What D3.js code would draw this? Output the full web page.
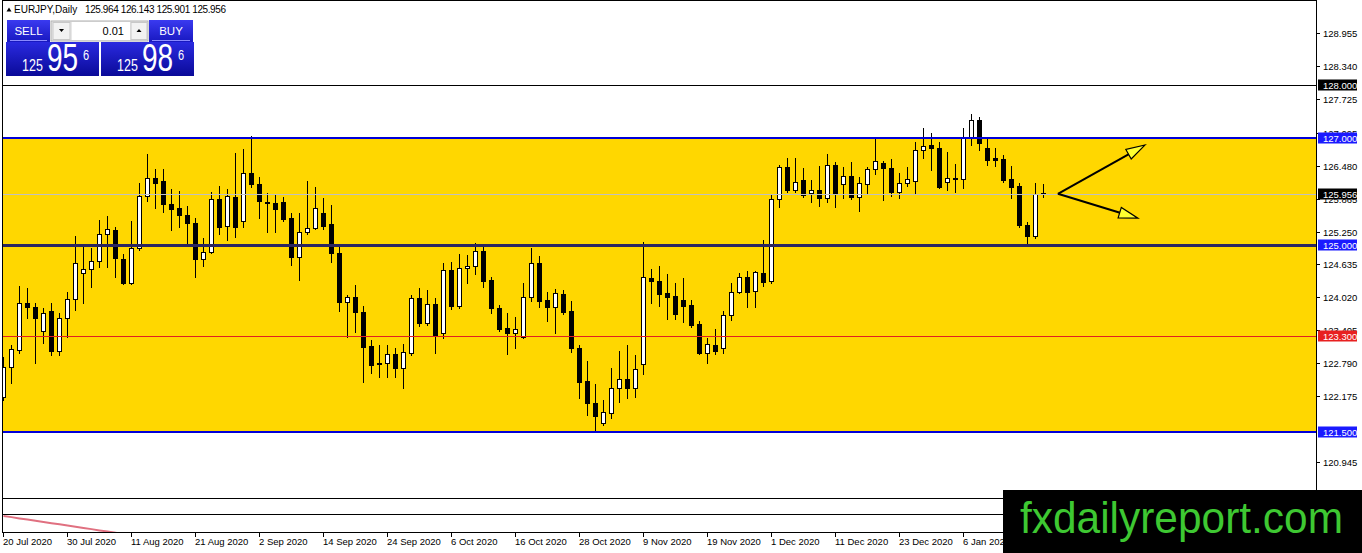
<!DOCTYPE html>
<html>
<head>
<meta charset="utf-8">
<script src="https://cdn.jsdelivr.net/npm/d3@7"></script>
<style>
    html, body { margin: 0; padding: 0; background: #ffffff; overflow: hidden; }
    svg { display: block; font-family: "Liberation Sans", Arial, sans-serif; }
</style>
</head>
<body>
<svg id="chart" width="1362" height="553"></svg>
<script>
// daily candles, 20 Jul 2020 .. 12 Jan 2021
const open = [
    122.16, 122.72, 123.04, 123.92, 123.84, 123.39, 123.77, 123.02, 123.64, 123.99,
    124.48, 124.55, 124.70, 125.21, 125.28, 124.74, 124.29, 124.94, 125.92, 126.25,
    126.20, 125.77, 125.69, 125.56, 125.41, 124.74, 124.87, 125.86, 125.36, 125.90,
    125.45, 126.35, 126.14, 125.80, 125.79, 125.80, 125.50, 124.78, 125.24, 125.32,
    125.60, 125.39, 124.85, 123.93, 124.03, 123.75, 123.11, 122.79, 122.79, 122.96,
    122.70, 122.98, 124.01, 123.54, 123.90, 123.36, 124.53, 123.86, 124.57, 124.61,
    124.89, 124.35, 123.82, 123.45, 123.36, 123.28, 124.03, 124.66, 123.97, 123.84,
    124.08, 123.77, 123.07, 122.46, 122.05, 121.67, 121.86, 122.33, 122.50, 122.33,
    122.78, 124.38, 124.33, 124.10, 124.05, 123.97, 123.88, 123.52, 122.98, 123.13,
    123.07, 123.69, 124.12, 124.40, 124.14, 124.48, 124.33, 125.86, 126.46, 126.03,
    126.21, 125.97, 126.03, 125.88, 126.50, 126.14, 126.29, 125.90, 126.14, 126.42,
    126.53, 126.44, 125.99, 126.16, 126.20, 126.78, 126.87, 126.81, 126.18, 126.23,
    126.23, 127.00, 127.34, 126.81, 126.63, 126.61, 126.23, 126.10, 125.37, 125.17,
    125.964
];
const high = [
    122.91, 123.13, 124.23, 124.20, 123.92, 123.82, 123.92, 123.73, 124.12, 125.17,
    125.00, 124.94, 125.47, 125.54, 125.34, 124.83, 125.45, 126.16, 126.70, 126.42,
    126.42, 126.05, 126.01, 125.73, 125.50, 125.13, 125.99, 126.10, 126.05, 126.72,
    126.79, 127.04, 126.27, 125.97, 125.93, 125.90, 125.60, 125.60, 126.20, 126.08,
    125.88, 125.75, 124.96, 124.07, 124.25, 123.86, 123.22, 123.13, 123.13, 123.07,
    123.15, 124.07, 124.20, 124.16, 124.01, 124.66, 124.68, 124.83, 124.81, 125.04,
    125.02, 124.40, 123.88, 123.73, 123.65, 124.29, 124.94, 124.79, 124.12, 124.18,
    124.16, 123.95, 123.13, 122.83, 122.40, 122.10, 122.70, 123.02, 123.13, 122.94,
    125.06, 124.55, 124.61, 124.46, 124.29, 124.38, 123.97, 123.58, 123.26, 123.43,
    123.77, 124.29, 124.48, 124.51, 124.51, 125.09, 125.93, 126.50, 126.63, 126.63,
    126.44, 126.21, 126.48, 126.70, 126.55, 126.46, 126.55, 126.27, 126.46, 126.98,
    126.57, 126.61, 126.35, 126.46, 126.93, 127.19, 127.09, 126.93, 126.74, 126.51,
    127.19, 127.45, 127.39, 127.02, 126.81, 126.68, 126.48, 126.16, 125.43, 126.16,
    126.143
];
const low = [
    122.10, 122.42, 122.98, 123.64, 122.79, 123.17, 122.94, 122.94, 123.28, 123.79,
    123.92, 124.21, 124.59, 124.59, 124.40, 124.27, 124.27, 124.91, 125.82, 125.69,
    125.62, 125.28, 125.34, 125.04, 124.40, 124.61, 124.85, 125.21, 125.09, 125.15,
    125.34, 126.08, 125.50, 125.24, 125.24, 125.45, 124.63, 124.35, 125.21, 125.30,
    125.30, 124.68, 123.77, 123.28, 123.37, 122.44, 122.61, 122.53, 122.53, 122.53,
    122.33, 122.94, 123.49, 123.50, 122.98, 123.26, 123.80, 123.82, 124.29, 124.46,
    124.21, 123.73, 123.39, 122.96, 123.07, 123.26, 123.95, 123.84, 123.58, 123.36,
    123.71, 123.00, 122.14, 121.82, 121.54, 121.64, 121.77, 122.07, 122.14, 122.16,
    122.59, 123.92, 123.86, 123.62, 123.62, 123.56, 123.47, 122.96, 122.79, 122.96,
    122.98, 123.60, 124.10, 123.84, 123.84, 124.23, 124.29, 125.71, 125.99, 125.99,
    125.90, 125.80, 125.73, 125.80, 125.71, 125.88, 125.86, 125.64, 125.95, 126.33,
    125.84, 125.92, 125.88, 126.10, 125.97, 126.63, 126.40, 126.07, 126.03, 125.99,
    126.07, 126.87, 126.78, 126.50, 126.48, 126.18, 125.88, 125.34, 125.04, 125.13,
    125.901
];
const close = [
    122.72, 123.06, 123.92, 123.84, 123.64, 123.73, 123.02, 123.64, 123.99, 124.66,
    124.55, 124.70, 125.21, 125.30, 124.76, 124.29, 124.94, 125.92, 126.25, 126.16,
    125.77, 125.67, 125.56, 125.41, 124.74, 124.87, 125.86, 125.34, 125.92, 125.34,
    126.35, 126.14, 125.82, 125.79, 125.67, 125.49, 124.78, 125.24, 125.32, 125.69,
    125.36, 124.85, 123.93, 124.03, 123.75, 123.09, 122.76, 122.78, 122.96, 122.70,
    123.00, 124.01, 123.54, 123.90, 123.32, 124.53, 123.86, 124.57, 124.61, 124.89,
    124.33, 123.82, 123.43, 123.36, 123.43, 124.03, 124.66, 123.95, 123.84, 124.10,
    123.75, 123.07, 122.44, 122.05, 121.80, 121.88, 122.33, 122.50, 122.33, 122.68,
    124.40, 124.33, 124.08, 124.03, 123.71, 123.86, 123.50, 122.98, 123.15, 123.02,
    123.69, 124.12, 124.40, 124.12, 124.50, 124.31, 125.86, 126.46, 126.03, 126.18,
    125.93, 126.03, 125.88, 126.50, 125.97, 126.29, 125.90, 126.16, 126.42, 126.57,
    126.44, 125.99, 126.16, 126.23, 126.78, 126.85, 126.81, 126.08, 126.25, 126.25,
    127.00, 127.34, 126.91, 126.59, 126.59, 126.21, 126.08, 125.37, 125.17, 125.95,
    125.956
];

const dateLabels = [
    "20 Jul 2020", "30 Jul 2020", "11 Aug 2020", "21 Aug 2020", "2 Sep 2020",
    "14 Sep 2020", "24 Sep 2020", "6 Oct 2020", "16 Oct 2020", "28 Oct 2020",
    "9 Nov 2020", "19 Nov 2020", "1 Dec 2020", "11 Dec 2020", "23 Dec 2020",
    "6 Jan 2021"
];
const dateBars = [0, 8, 16, 24, 32, 40, 48, 56, 64, 72, 80, 88, 96, 104, 112, 120];

// 121.560 is fully covered by the 121.500 tag, so it is left out
const priceTicks = [
    128.955, 128.340, 127.725, 127.095, 126.480, 125.865, 125.250,
    124.635, 124.020, 123.405, 122.790, 122.175, 120.945
];

// horizontal levels drawn on the chart
const levels = [128.000, 127.000, 125.000, 123.300, 121.500];
const zone = [127.000, 121.500];
const bidPrice = 125.956;

// sub window indicator (only the start is visible)
const indicator = [0.0, -0.07, -0.15, -0.22, -0.30, -0.37, -0.45, -0.52, -0.60,
    -0.67, -0.75, -0.82, -0.90, -0.97, -1.05, -1.12];

// hand-drawn arrows, in bar / price units
const arrowStart = { bar: 131.8, price: 125.956 };
const arrowEnds = [
    { bar: 142.7, price: 126.87 },
    { bar: 141.8, price: 125.50 }
];

const attr = {
    left: 3,
    right: 1316,
    top: 1,
    mainBottom: 498,
    subLine: 514,
    axisY: 532,
    firstBar: 3.5,
    step: 8,
    bodyHalf: 2,
    yellow: "#ffd700",
    levelStyle: [
        { color: "#000000", width: 1, box: "#000000" },
        { color: "#0000d8", width: 2, box: "#1a1aff" },
        { color: "#2c2660", width: 3, box: "#1a1aff" },
        { color: "#e02020", width: 1, box: "#e82020" },
        { color: "#0000d8", width: 2, box: "#1a1aff" }
    ]
};

const svg = d3.select("#chart");

const x = d3.scaleLinear().domain([0, 1]).range([attr.firstBar, attr.firstBar + attr.step]);
const y = d3.scaleLinear().domain([121.5, 127]).range([432, 138]);
const ySub = d3.scaleLinear().domain([-1, 1]).range([532, 500]);

const crisp = function(v, w) {
    return w % 2 === 1 ? Math.round(v) + 0.5 : Math.round(v);
};

const defs = svg.append("defs");
defs.append("clipPath").attr("id", "mainClip")
    .append("rect")
    .attr("x", attr.left)
    .attr("y", attr.top)
    .attr("width", attr.right - attr.left)
    .attr("height", attr.mainBottom - attr.top);
defs.append("clipPath").attr("id", "subClip")
    .append("rect")
    .attr("x", attr.left)
    .attr("y", attr.mainBottom)
    .attr("width", attr.right - attr.left)
    .attr("height", attr.axisY - attr.mainBottom);

let grad = defs.append("linearGradient").attr("id", "panelBlue")
    .attr("x1", 0).attr("y1", 0).attr("x2", 0).attr("y2", 1);
grad.append("stop").attr("offset", "0%").attr("stop-color", "#2a2ae0");
grad.append("stop").attr("offset", "100%").attr("stop-color", "#0a0a98");
let grad2 = defs.append("linearGradient").attr("id", "btnBlue")
    .attr("x1", 0).attr("y1", 0).attr("x2", 0).attr("y2", 1);
grad2.append("stop").attr("offset", "0%").attr("stop-color", "#3a3af0");
grad2.append("stop").attr("offset", "100%").attr("stop-color", "#1818c0");

// ---- main window ----
const main = svg.append("g").attr("clip-path", "url(#mainClip)");

main.append("rect")
    .attr("x", attr.left)
    .attr("y", Math.round(y(zone[0])))
    .attr("width", attr.right - attr.left)
    .attr("height", Math.round(y(zone[1])) - Math.round(y(zone[0])))
    .style("fill", attr.yellow);

const candles = d3.range(open.length).map(i => ({
    i: i, o: open[i], h: high[i], l: low[i], c: close[i]
}));

const cg = main.append("g").attr("shape-rendering", "crispEdges");

cg.selectAll("line.wick")
    .data(candles)
    .enter()
    .append("line")
    .attr("class", "wick")
    .attr("x1", d => x(d.i))
    .attr("x2", d => x(d.i))
    .attr("y1", d => Math.round(y(d.h)))
    .attr("y2", d => Math.round(y(d.l)) + 1)
    .style("stroke", "#000")
    .style("stroke-width", 1);

cg.selectAll("rect.body")
    .data(candles)
    .enter()
    .append("rect")
    .attr("class", "body")
    .attr("x", d => x(d.i) - attr.bodyHalf)
    .attr("y", d => Math.round(y(Math.max(d.o, d.c))) + 0.5)
    .attr("width", attr.bodyHalf * 2)
    .attr("height", d => Math.max(0, Math.round(y(Math.min(d.o, d.c))) - Math.round(y(Math.max(d.o, d.c)))))
    .style("fill", d => (d.c >= d.o ? "#ffffff" : "#000000"))
    .style("stroke", "#000")
    .style("stroke-width", 1);

// bid line
main.append("line")
    .attr("x1", attr.left)
    .attr("x2", attr.right)
    .attr("y1", crisp(y(bidPrice), 1))
    .attr("y2", crisp(y(bidPrice), 1))
    .style("stroke", "#c0c0c0")
    .style("stroke-width", 1);

main.selectAll("line.level")
    .data(levels)
    .enter()
    .append("line")
    .attr("class", "level")
    .attr("x1", attr.left)
    .attr("x2", attr.right)
    .attr("y1", (d, i) => crisp(y(d), attr.levelStyle[i].width))
    .attr("y2", (d, i) => crisp(y(d), attr.levelStyle[i].width))
    .style("stroke", (d, i) => attr.levelStyle[i].color)
    .style("stroke-width", (d, i) => attr.levelStyle[i].width);

// arrows
const ax0 = x(arrowStart.bar);
const ay0 = y(arrowStart.price);
arrowEnds.forEach(function(e) {
    let tx = x(e.bar);
    let ty = y(e.price);
    let len = Math.hypot(tx - ax0, ty - ay0);
    let ux = (tx - ax0) / len;
    let uy = (ty - ay0) / len;
    let headL = 19;
    let headW = 5.5;
    let bx = tx - ux * headL;
    let by = ty - uy * headL;
    main.append("line")
        .attr("x1", ax0).attr("y1", ay0)
        .attr("x2", bx + ux * 2).attr("y2", by + uy * 2)
        .style("stroke", "#000")
        .style("stroke-width", 2);
    main.append("polygon")
        .attr("points", [
            [tx, ty],
            [bx - uy * headW, by + ux * headW],
            [bx + uy * headW, by - ux * headW]
        ].map(p => p.join(",")).join(" "))
        .style("fill", "#ffff30")
        .style("stroke", "#000")
        .style("stroke-width", 1.2);
});

// ---- sub window ----
const sub = svg.append("g").attr("clip-path", "url(#subClip)");
sub.append("path")
    .datum(indicator)
    .attr("d", d3.line().x((d, i) => x(i)).y(d => ySub(d)))
    .style("fill", "none")
    .style("stroke", "#e07080")
    .style("stroke-width", 2);

// ---- frame ----
const frame = svg.append("g").attr("shape-rendering", "crispEdges").style("stroke", "#000");
frame.append("line").attr("x1", 2.5).attr("x2", 2.5).attr("y1", 0).attr("y2", attr.axisY + 1);
frame.append("line").attr("x1", attr.right + 0.5).attr("x2", attr.right + 0.5).attr("y1", 0).attr("y2", attr.axisY + 1);
frame.append("line").attr("x1", 2.5).attr("x2", attr.right).attr("y1", 0.5).attr("y2", 0.5);
frame.append("line").attr("x1", 2.5).attr("x2", attr.right).attr("y1", attr.mainBottom + 0.5).attr("y2", attr.mainBottom + 0.5);
frame.append("line").attr("x1", 2.5).attr("x2", attr.right).attr("y1", attr.subLine + 0.5).attr("y2", attr.subLine + 0.5);
frame.append("line").attr("x1", 2.5).attr("x2", attr.right).attr("y1", attr.axisY + 0.5).attr("y2", attr.axisY + 0.5);

// ---- price axis ----
const pa = svg.append("g");
pa.selectAll("line")
    .data(priceTicks)
    .enter()
    .append("line")
    .attr("x1", attr.right)
    .attr("x2", attr.right + 4)
    .attr("y1", d => crisp(y(d), 1))
    .attr("y2", d => crisp(y(d), 1))
    .style("stroke", "#000")
    .attr("shape-rendering", "crispEdges");
pa.selectAll("text")
    .data(priceTicks)
    .enter()
    .append("text")
    .attr("x", attr.right + 7)
    .attr("y", d => Math.round(y(d)) + 3.5)
    .style("font-size", "9.5px")
    .style("fill", "#000")
    .text(d => d.toFixed(3));

const tags = levels.map((v, i) => ({ v: v, box: attr.levelStyle[i].box }))
    .concat([{ v: bidPrice, box: "#000000" }]);
const tagG = svg.append("g").selectAll("g")
    .data(tags)
    .enter()
    .append("g")
    .attr("transform", d => "translate(" + (attr.right + 2) + "," + Math.round(y(d.v)) + ")");
tagG.append("rect")
    .attr("x", 0)
    .attr("y", -5.5)
    .attr("width", 39)
    .attr("height", 11)
    .style("fill", d => d.box);
tagG.append("text")
    .attr("x", 5)
    .attr("y", 3.5)
    .style("font-size", "9.5px")
    .style("fill", "#fff")
    .text(d => d.v.toFixed(3));

// ---- time axis ----
const ta = svg.append("g");
ta.selectAll("line")
    .data(dateBars)
    .enter()
    .append("line")
    .attr("x1", d => x(d))
    .attr("x2", d => x(d))
    .attr("y1", attr.axisY)
    .attr("y2", attr.axisY + 5)
    .style("stroke", "#000")
    .attr("shape-rendering", "crispEdges");
ta.selectAll("text")
    .data(dateBars)
    .enter()
    .append("text")
    .attr("x", d => x(d) - 0.5)
    .attr("y", attr.axisY + 13)
    .style("font-size", "9.5px")
    .style("fill", "#000")
    .text((d, i) => dateLabels[i]);

// ---- header and trade panel ----
const last = open.length - 1;
const head = svg.append("g");
head.append("path").attr("d", "M6.5,11.5 L9,7.5 L11.5,11.5 Z").style("fill", "#000");
head.append("text")
    .attr("x", 14).attr("y", 13)
    .style("font-size", "10px")
    .text("EURJPY,Daily");
head.append("text")
    .attr("x", 85).attr("y", 13)
    .style("font-size", "10px")
    .attr("textLength", 141)
    .text([open[last], high[last], low[last], close[last]].map(v => v.toFixed(3)).join(" "));

const panel = svg.append("g");
const button = function(px, w, label) {
    panel.append("rect")
        .attr("x", px).attr("y", 20).attr("width", w).attr("height", 22)
        .style("fill", "url(#btnBlue)");
    panel.append("line")
        .attr("x1", px + 3).attr("x2", px + w - 3).attr("y1", 40.5).attr("y2", 40.5)
        .style("stroke", "#8a8aff").style("stroke-width", 1);
    panel.append("text")
        .attr("x", px + w / 2).attr("y", 35)
        .attr("text-anchor", "middle")
        .style("font-size", "11.5px").style("fill", "#fff")
        .text(label);
};
button(7, 43, "SELL");
button(149, 44, "BUY");

panel.append("rect").attr("x", 51).attr("y", 21).attr("width", 97).attr("height", 20)
    .style("fill", "#e8e8e8").style("stroke", "#b0b0b0");
panel.append("rect").attr("x", 53).attr("y", 22.5).attr("width", 17).attr("height", 17)
    .style("fill", "#f2f2f2").style("stroke", "#c8c8c8");
panel.append("rect").attr("x", 72).attr("y", 22).attr("width", 58).attr("height", 18)
    .style("fill", "#fff");
panel.append("rect").attr("x", 131).attr("y", 22.5).attr("width", 16).attr("height", 17)
    .style("fill", "#f2f2f2").style("stroke", "#c8c8c8");
panel.append("path").attr("d", "M59,29 L64,29 L61.5,32 Z").style("fill", "#000");
panel.append("path").attr("d", "M136.5,32 L141.5,32 L139,29 Z").style("fill", "#000");
panel.append("text").attr("x", 124).attr("y", 35).attr("text-anchor", "end")
    .style("font-size", "11px").text("0.01");

// narrow tall digits: small font stretched vertically
const priceBox = function(px, big, small) {
    panel.append("rect")
        .attr("x", px).attr("y", 42).attr("width", 93).attr("height", 34)
        .style("fill", "url(#panelBlue)");
    panel.append("text")
        .attr("transform", "translate(" + (px + 16) + ",71) scale(1,1.3)")
        .style("font-size", "12.5px").style("fill", "#fff").text(small);
    panel.append("text")
        .attr("transform", "translate(" + (px + 41) + ",71) scale(1,1.38)")
        .style("font-size", "28px").style("fill", "#fff").text(big.slice(0, 2));
    panel.append("text")
        .attr("transform", "translate(" + (px + 77) + ",60) scale(1,1.4)")
        .style("font-size", "11px").style("fill", "#fff").text(big.slice(2));
};
const bidStr = close[last].toFixed(3);
const askStr = (close[last] + 0.030).toFixed(3);
priceBox(6, bidStr.slice(4), bidStr.slice(0, 3));
priceBox(101, askStr.slice(4), askStr.slice(0, 3));

// ---- watermark ----
svg.append("rect")
    .attr("x", 1003).attr("y", 490).attr("width", 359).attr("height", 63)
    .style("fill", "#000");
svg.append("text")
    .attr("x", 1020).attr("y", 533)
    .attr("textLength", 323).attr("lengthAdjust", "spacingAndGlyphs")
    .style("font-size", "44px")
    .style("fill", "#3ec832")
    .text("fxdailyreport.com");
</script>
</body>
</html>
